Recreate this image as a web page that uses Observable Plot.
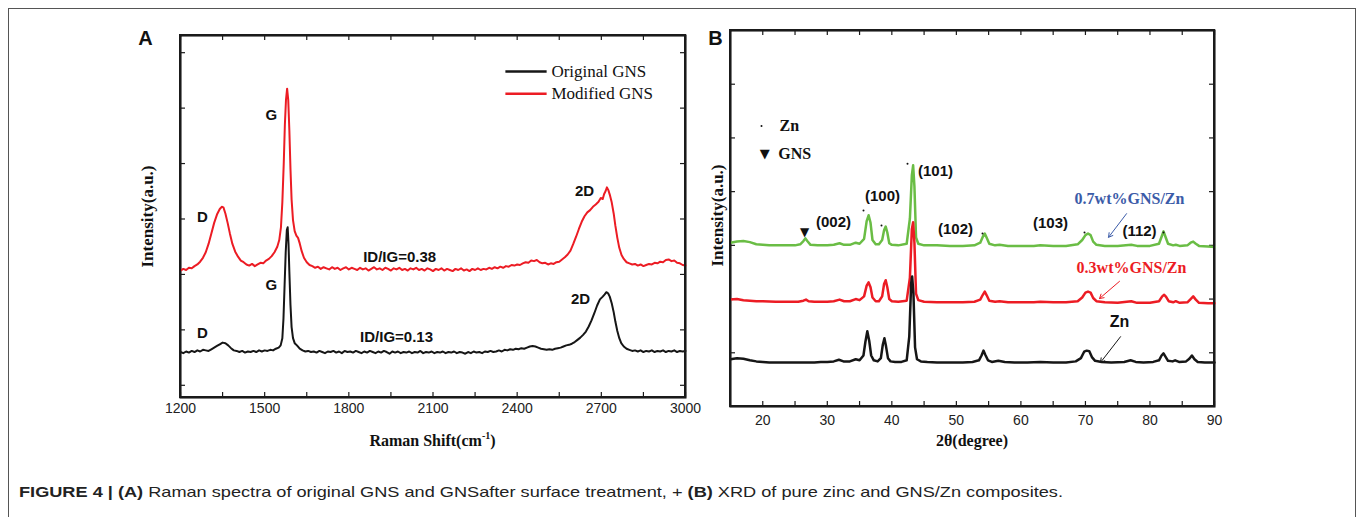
<!DOCTYPE html>
<html><head><meta charset="utf-8">
<script src="https://cdn.jsdelivr.net/npm/d3@7"></script>
<script src="https://cdn.jsdelivr.net/npm/@observablehq/plot@0.6"></script>
<style>
body{margin:0;background:#fff;}
#fig{position:relative;width:1357px;height:517px;overflow:hidden;background:#fff;}
#border{position:absolute;left:8px;top:8px;width:1348px;height:530px;border:1.5px solid #555;border-bottom:none;box-sizing:border-box;}
.panel{position:absolute;top:0;}
#panelA{left:0;width:700px;height:460px;}
#panelB{left:700px;width:530px;height:460px;}
.panel svg{max-width:none !important;}
.frame{position:absolute;border:2px solid #1a1a1a;box-sizing:border-box;pointer-events:none;}
#cap{position:absolute;left:0;top:470px;}
</style></head>
<body>
<div id="fig">
  <div id="border"></div>
  <div id="panelA" class="panel"></div>
  <div id="panelB" class="panel"></div>
  <div id="frameA" class="frame"></div>
  <div id="frameB" class="frame"></div>
  <svg id="cap" width="1357" height="47"></svg>
</div>
<script>
// ---------------- DATA: Panel A (Raman) ----------------
const xDomainA = [1200, 3000];
const yDomainA = [-0.22, 6.31];
const xTicksA = [1200, 1500, 1800, 2100, 2400, 2700, 3000];
const xMinorA = [1200, 1350, 1500, 1650, 1800, 1950, 2100, 2250, 2400, 2550, 2700, 2850, 3000];
const yTicksA = [0, 1, 2, 3, 4, 5, 6];

const modifiedGNS = [[1200,2.07],[1210,2.10],[1220,2.08],[1230,2.12],[1240,2.11],[1250,2.15],[1260,2.18],[1270,2.23],[1280,2.30],[1290,2.40],[1300,2.55],[1310,2.74],[1320,2.93],[1330,3.08],[1340,3.18],[1347,3.22],[1353,3.21],[1360,3.10],[1368,2.93],[1376,2.74],[1385,2.55],[1395,2.41],[1405,2.32],[1415,2.25],[1425,2.22],[1435,2.18],[1445,2.16],[1455,2.19],[1465,2.15],[1475,2.18],[1485,2.21],[1495,2.20],[1505,2.25],[1515,2.28],[1525,2.33],[1535,2.40],[1545,2.50],[1552,2.62],[1558,2.85],[1563,3.30],[1568,4.00],[1572,4.70],[1576,5.15],[1580,5.35],[1584,5.15],[1588,4.60],[1592,3.90],[1596,3.35],[1601,2.98],[1607,2.78],[1613,2.70],[1619,2.66],[1625,2.56],[1632,2.42],[1640,2.30],[1650,2.22],[1660,2.17],[1670,2.15],[1680,2.12],[1690,2.14],[1700,2.10],[1710,2.13],[1720,2.11],[1730,2.09],[1740,2.13],[1750,2.10],[1760,2.12],[1770,2.08],[1780,2.11],[1790,2.13],[1800,2.09],[1810,2.12],[1820,2.10],[1830,2.08],[1840,2.12],[1850,2.09],[1860,2.11],[1870,2.07],[1880,2.10],[1890,2.13],[1900,2.09],[1910,2.11],[1920,2.08],[1930,2.12],[1940,2.10],[1950,2.07],[1960,2.11],[1970,2.09],[1980,2.12],[1990,2.08],[2000,2.10],[2010,2.07],[2020,2.11],[2030,2.09],[2040,2.12],[2050,2.08],[2060,2.10],[2070,2.07],[2080,2.11],[2090,2.09],[2100,2.06],[2110,2.10],[2120,2.08],[2130,2.11],[2140,2.07],[2150,2.10],[2160,2.08],[2170,2.06],[2180,2.10],[2190,2.08],[2200,2.11],[2210,2.07],[2220,2.09],[2230,2.06],[2240,2.10],[2250,2.08],[2260,2.11],[2270,2.08],[2280,2.10],[2290,2.09],[2300,2.12],[2310,2.10],[2320,2.13],[2330,2.11],[2340,2.14],[2350,2.12],[2360,2.15],[2370,2.14],[2380,2.17],[2390,2.16],[2400,2.18],[2410,2.17],[2420,2.20],[2430,2.22],[2440,2.21],[2450,2.25],[2460,2.24],[2470,2.26],[2480,2.22],[2490,2.20],[2500,2.21],[2510,2.18],[2520,2.20],[2530,2.19],[2540,2.22],[2550,2.23],[2560,2.27],[2570,2.31],[2580,2.36],[2590,2.43],[2600,2.55],[2610,2.68],[2620,2.82],[2630,2.95],[2640,3.05],[2650,3.12],[2660,3.16],[2670,3.22],[2680,3.26],[2690,3.31],[2698,3.38],[2705,3.36],[2710,3.45],[2715,3.50],[2720,3.57],[2725,3.52],[2730,3.44],[2737,3.30],[2744,3.10],[2750,2.88],[2757,2.66],[2764,2.48],[2772,2.35],[2780,2.28],[2790,2.22],[2800,2.20],[2810,2.18],[2820,2.19],[2830,2.16],[2840,2.18],[2850,2.15],[2860,2.17],[2870,2.19],[2880,2.18],[2890,2.21],[2900,2.20],[2910,2.23],[2920,2.22],[2930,2.26],[2940,2.27],[2950,2.24],[2960,2.25],[2970,2.21],[2980,2.20],[2990,2.17],[3000,2.16]];

const originalGNS = [[1200,0.60],[1210,0.58],[1220,0.61],[1230,0.59],[1240,0.62],[1250,0.60],[1260,0.63],[1270,0.61],[1280,0.64],[1290,0.63],[1300,0.62],[1310,0.65],[1320,0.68],[1330,0.71],[1340,0.74],[1350,0.77],[1360,0.76],[1370,0.72],[1380,0.67],[1390,0.63],[1400,0.62],[1410,0.60],[1420,0.62],[1430,0.59],[1440,0.61],[1450,0.60],[1460,0.62],[1470,0.60],[1480,0.63],[1490,0.61],[1500,0.63],[1510,0.62],[1520,0.64],[1530,0.63],[1540,0.66],[1550,0.68],[1557,0.72],[1563,0.85],[1567,1.20],[1571,1.80],[1575,2.40],[1579,2.80],[1582,2.85],[1585,2.55],[1588,2.05],[1592,1.45],[1596,1.05],[1601,0.85],[1607,0.76],[1615,0.72],[1625,0.66],[1635,0.63],[1645,0.61],[1655,0.62],[1665,0.60],[1675,0.61],[1685,0.59],[1695,0.62],[1705,0.60],[1715,0.58],[1725,0.61],[1735,0.60],[1745,0.62],[1755,0.59],[1765,0.61],[1775,0.58],[1785,0.62],[1795,0.60],[1805,0.61],[1815,0.59],[1825,0.62],[1835,0.60],[1845,0.58],[1855,0.61],[1865,0.59],[1875,0.62],[1885,0.60],[1895,0.58],[1905,0.61],[1915,0.59],[1925,0.62],[1935,0.60],[1945,0.57],[1955,0.61],[1965,0.59],[1975,0.61],[1985,0.58],[1995,0.60],[2005,0.59],[2015,0.61],[2025,0.58],[2035,0.60],[2045,0.59],[2055,0.62],[2065,0.58],[2075,0.60],[2085,0.59],[2095,0.61],[2105,0.58],[2115,0.60],[2125,0.59],[2135,0.61],[2145,0.58],[2155,0.60],[2165,0.59],[2175,0.61],[2185,0.58],[2195,0.60],[2205,0.59],[2215,0.57],[2225,0.60],[2235,0.58],[2245,0.61],[2255,0.59],[2265,0.60],[2275,0.58],[2285,0.61],[2295,0.60],[2305,0.62],[2315,0.60],[2325,0.61],[2335,0.63],[2345,0.61],[2355,0.64],[2365,0.63],[2375,0.65],[2385,0.64],[2395,0.66],[2405,0.65],[2415,0.67],[2425,0.66],[2435,0.68],[2445,0.70],[2455,0.71],[2465,0.70],[2475,0.68],[2485,0.66],[2495,0.65],[2505,0.64],[2515,0.65],[2525,0.64],[2535,0.66],[2545,0.67],[2555,0.68],[2565,0.70],[2575,0.72],[2585,0.73],[2595,0.75],[2605,0.78],[2615,0.82],[2625,0.86],[2635,0.91],[2645,0.97],[2655,1.06],[2665,1.17],[2675,1.30],[2685,1.44],[2695,1.55],[2705,1.60],[2712,1.64],[2718,1.68],[2724,1.66],[2730,1.60],[2737,1.48],[2744,1.32],[2750,1.15],[2757,0.98],[2764,0.85],[2771,0.76],[2780,0.70],[2790,0.66],[2800,0.64],[2810,0.62],[2820,0.63],[2830,0.61],[2840,0.63],[2850,0.60],[2860,0.62],[2870,0.61],[2880,0.63],[2890,0.60],[2900,0.62],[2910,0.61],[2920,0.63],[2930,0.60],[2940,0.62],[2950,0.61],[2960,0.63],[2970,0.60],[2980,0.62],[2990,0.61],[3000,0.62]];

const legendLabelsA = ["Original GNS", "Modified GNS"];
const peakLabelsA = [
  {label:"G", x:1524, y:4.88}, {label:"D", x:1278, y:3.03}, {label:"2D", x:2640, y:3.50},
  {label:"ID/IG=0.38", x:1981, y:2.31},
  {label:"G", x:1524, y:1.80}, {label:"D", x:1278, y:0.94}, {label:"2D", x:2626, y:1.55},
  {label:"ID/IG=0.13", x:1970, y:0.86}
];

// ---------------- DATA: Panel B (XRD) ----------------
const xDomainB = [15, 90];
const yDomainB = [0, 7];
const xTicksB = [20, 30, 40, 50, 60, 70, 80, 90];
const xMinorB = [20, 25, 30, 35, 40, 45, 50, 55, 60, 65, 70, 75, 80, 85, 90];
const yTicksB = [1, 2, 3, 4, 5, 6];

const pureZn = [[15,0.88],[16,0.90],[17,0.89],[18,0.86],[19,0.84],[20,0.83],[21,0.82],[22,0.82],[23,0.82],[24,0.82],[25,0.82],[26,0.82],[27,0.82],[28,0.82],[29,0.83],[30,0.83],[31,0.84],[31.8,0.87],[32.5,0.84],[33.5,0.84],[34.4,0.88],[35.0,0.86],[35.6,0.95],[35.9,1.20],[36.2,1.40],[36.5,1.22],[36.8,0.95],[37.2,0.86],[37.8,0.84],[38.3,0.90],[38.6,1.15],[38.85,1.27],[39.1,1.12],[39.4,0.90],[39.8,0.84],[40.5,0.83],[41.5,0.83],[42.3,0.86],[42.7,1.30],[43.0,2.30],[43.15,2.42],[43.35,2.10],[43.6,1.10],[43.9,0.88],[44.5,0.84],[45.5,0.83],[47,0.82],[49,0.82],[51,0.82],[52.5,0.83],[53.5,0.86],[53.9,0.95],[54.2,1.04],[54.5,0.96],[54.9,0.86],[55.5,0.83],[56.5,0.85],[57.5,0.83],[59,0.82],[61,0.82],[63,0.83],[65,0.82],[67,0.82],[68.5,0.84],[69.3,0.90],[69.8,1.02],[70.2,1.04],[70.6,1.03],[71.0,0.92],[71.5,0.85],[72.5,0.83],[74,0.82],[76,0.83],[77.0,0.86],[77.8,0.83],[79,0.82],[80.5,0.83],[81.4,0.86],[81.8,0.95],[82.1,0.99],[82.4,0.93],[82.8,0.85],[83.5,0.84],[83.9,0.86],[84.5,0.83],[85.6,0.84],[86.1,0.89],[86.5,0.95],[86.9,0.88],[87.4,0.83],[88.5,0.82],[90,0.82]];

const gns03Zn = [[15,1.99],[16,2.00],[17,1.98],[18,1.97],[19,1.96],[20,1.96],[22,1.95],[24,1.95],[25.5,1.95],[26.3,1.97],[26.7,1.99],[27.1,1.96],[28,1.95],[30,1.95],[31,1.96],[31.9,1.99],[32.6,1.96],[33.5,1.96],[34.4,2.00],[35.0,1.98],[35.7,2.05],[36.1,2.25],[36.4,2.31],[36.7,2.22],[37.0,2.03],[37.5,1.96],[38.0,1.96],[38.5,2.05],[38.8,2.28],[39.05,2.35],[39.3,2.22],[39.6,2.00],[40.0,1.96],[41,1.95],[42.3,1.97],[42.8,2.40],[43.1,3.30],[43.3,3.43],[43.5,3.05],[43.75,2.10],[44.1,1.98],[45,1.95],[47,1.94],[49,1.94],[51,1.94],[52.8,1.95],[53.7,1.99],[54.1,2.08],[54.4,2.14],[54.7,2.07],[55.1,1.97],[56,1.95],[56.7,1.96],[58,1.94],[60,1.94],[62,1.94],[63,1.95],[65,1.94],[67,1.94],[68.8,1.96],[69.5,2.03],[70.0,2.12],[70.4,2.14],[70.8,2.12],[71.2,2.02],[71.7,1.96],[73,1.94],[75,1.93],[77.1,1.96],[78,1.93],[80,1.93],[81.4,1.96],[81.9,2.05],[82.2,2.08],[82.5,2.04],[82.9,1.96],[83.6,1.94],[84.0,1.96],[84.6,1.93],[85.8,1.94],[86.3,2.00],[86.7,2.05],[87.1,1.99],[87.6,1.93],[89,1.92],[90,1.92]];

const gns07Zn = [[15,3.05],[16,3.07],[17,3.08],[18,3.06],[19,3.02],[20,3.01],[21,3.00],[22,3.00],[23,3.00],[24,3.00],[25,3.00],[25.8,3.02],[26.3,3.08],[26.6,3.13],[26.9,3.08],[27.4,3.01],[28.5,3.00],[30,3.00],[31,3.01],[31.9,3.04],[32.6,3.01],[33.5,3.01],[34.4,3.05],[35.0,3.03],[35.7,3.12],[36.1,3.45],[36.4,3.56],[36.7,3.42],[37.0,3.10],[37.5,3.02],[38.0,3.02],[38.5,3.10],[38.8,3.28],[39.05,3.35],[39.3,3.24],[39.6,3.04],[40.0,3.01],[41,3.00],[42.3,3.03],[42.8,3.50],[43.1,4.30],[43.3,4.49],[43.5,4.10],[43.75,3.15],[44.1,3.03],[45,3.00],[47,3.00],[49,2.99],[51,2.99],[52.8,3.00],[53.7,3.05],[54.1,3.16],[54.4,3.22],[54.7,3.14],[55.1,3.03],[56,3.00],[56.7,3.01],[58,2.99],[60,2.99],[62,2.99],[63,3.00],[65,2.99],[67,2.99],[68.8,3.02],[69.5,3.10],[70.0,3.19],[70.4,3.22],[70.8,3.19],[71.2,3.07],[71.7,3.01],[73,2.99],[75,2.99],[77.1,3.01],[78,2.99],[80,2.99],[81.4,3.03],[81.8,3.16],[82.1,3.26],[82.4,3.16],[82.8,3.03],[83.6,3.00],[84.0,3.01],[84.6,2.99],[85.8,3.00],[86.3,3.05],[86.7,3.07],[87.1,3.03],[87.6,2.99],[89,2.98],[90,2.97]];

const planeLabelsB = [
  {label:"(002)", x:30.96, y:3.43}, {label:"(100)", x:38.56, y:3.91}, {label:"(101)", x:46.77, y:4.39},
  {label:"(102)", x:49.87, y:3.30}, {label:"(103)", x:64.59, y:3.41}, {label:"(112)", x:78.38, y:3.26}
];
const znMarksB = [{x:35.61,y:3.65},{x:38.40,y:3.37},{x:42.43,y:4.52},{x:54.05,y:3.22},{x:69.86,y:3.24},{x:82.10,y:3.24}];
const gnsMarkB = [{x:26.47, y:3.24}];
const sampleLabelsB = [
  {label:"0.7wt%GNS/Zn", x:76.83, y:3.87, x1:76.37, y1:3.59, x2:73.58, y2:3.15},
  {label:"0.3wt%GNS/Zn", x:77.14, y:2.59, x1:75.28, y1:2.33, x2:72.18, y2:2.01},
  {label:"Zn", x:75.28, y:1.58, x1:75.44, y1:1.30, x2:72.34, y2:0.82}
];

const caption = {bold1:"FIGURE 4 | (A)", text1:" Raman spectra of original GNS and GNSafter surface treatment, + ", bold2:"(B)", text2:" XRD of pure zinc and GNS/Zn composites."};

// ---------------- STYLES ----------------
const RED = "#ec1c24", BLACK = "#161616", GREEN = "#6abd45", BLUE = "#3b5ba8", AX = "#1a1a1a";
const SANS = "Liberation Sans, Arial, sans-serif", SERIF = "Liberation Serif, Times New Roman, serif";

function placeFrame(id, left, m, w, h) {
  const el = document.getElementById(id);
  el.style.left = (left + m.l - 1) + "px";
  el.style.top = (m.t - 1) + "px";
  el.style.width = (w - m.l - m.r + 2) + "px";
  el.style.height = (h - m.t - m.b + 2) + "px";
}

// ---------------- PANEL A ----------------
const A = {w:700, h:460, l:180, r:15, t:35, b:63};
const fwA = A.w - A.l - A.r, fhA = A.h - A.t - A.b;
const legendPosA = [{x1:2358, x2:2505, y:5.66, tx:2522}, {x1:2358, x2:2505, y:5.26, tx:2522}];
const legendColorsA = [BLACK, RED];
const legA = legendLabelsA.map((label, i) => ({label, color: legendColorsA[i], ...legendPosA[i]}));

const plotA = Plot.plot({
  width: A.w, height: A.h, marginLeft: A.l, marginRight: A.r, marginTop: A.t, marginBottom: A.b,
  style: {fontFamily: SANS, fontSize: "14px", color: AX, background: "transparent", overflow: "visible"},
  x: {domain: xDomainA, axis: null},
  y: {domain: yDomainA, axis: null},
  marks: [
    Plot.frame({stroke: "#000", strokeWidth: 2}),
    Plot.ruleX(xMinorA, {stroke: AX, strokeWidth: 1.2, insetTop: fhA - 5}),
    Plot.ruleX(xMinorA, {stroke: AX, strokeWidth: 1.2, insetBottom: fhA - 5}),
    Plot.ruleY(yTicksA, {stroke: AX, strokeWidth: 1.2, insetRight: fwA - 5}),
    Plot.ruleY(yTicksA, {stroke: AX, strokeWidth: 1.2, insetLeft: fwA - 5}),
    Plot.text(xTicksA, {x: d => d, frameAnchor: "bottom", lineAnchor: "top", dy: 6, text: d => String(d), fontFamily: SANS, fontSize: 14, fill: "#222"}),
    Plot.line(originalGNS, {x: d => d[0], y: d => d[1], stroke: BLACK, strokeWidth: 2}),
    Plot.line(modifiedGNS, {x: d => d[0], y: d => d[1], stroke: RED, strokeWidth: 2}),
    Plot.link(legA, {x1: "x1", x2: "x2", y1: "y", y2: "y", stroke: "color", strokeWidth: 2.5}),
    Plot.text(legA, {x: "tx", y: "y", text: "label", textAnchor: "start", fontFamily: SERIF, fontSize: 17, fill: "#111"}),
    Plot.text(peakLabelsA, {x: "x", y: "y", text: "label", fontFamily: SANS, fontWeight: "bold", fontSize: 15, fill: "#111"}),
    Plot.text(["Intensity(a.u.)"], {frameAnchor: "left", textAnchor: "middle", text: d => d, rotate: -90, dx: -33, fontFamily: SERIF, fontWeight: "bold", fontSize: 17, fill: "#111"}),
    Plot.text(["A"], {frameAnchor: "top-left", lineAnchor: "middle", textAnchor: "middle", text: d => d, dx: -35, dy: 3, fontFamily: SANS, fontWeight: "bold", fontSize: 20, fill: "#111"})
  ]
});
document.getElementById("panelA").appendChild(plotA);
placeFrame("frameA", 0, A, A.w, A.h);
{
  const t = d3.select(plotA).append("text")
    .attr("x", A.l + fwA / 2).attr("y", A.h - A.b + 49)
    .attr("text-anchor", "middle").attr("font-family", SERIF).attr("font-weight", "bold")
    .attr("font-size", 16).attr("fill", "#111");
  t.append("tspan").text("Raman Shift(cm");
  t.append("tspan").attr("font-size", 10).attr("dy", -7).text("-1");
  t.append("tspan").attr("dy", 7).text(")");
}

// ---------------- PANEL B ----------------
const B = {w:530, h:460, l:30, r:16, t:30, b:54};
const fwB = B.w - B.l - B.r, fhB = B.h - B.t - B.b;
const legendB = [{sym:"·", label:"Zn", x:19.8, tx:22.6, y:5.22}, {sym:"▼", label:"GNS", x:20.3, tx:22.4, y:4.71}];

const plotB = Plot.plot({
  width: B.w, height: B.h, marginLeft: B.l, marginRight: B.r, marginTop: B.t, marginBottom: B.b,
  style: {fontFamily: SANS, fontSize: "14px", color: AX, background: "transparent", overflow: "visible"},
  x: {domain: xDomainB, axis: null},
  y: {domain: yDomainB, axis: null},
  marks: [
    Plot.frame({stroke: "#000", strokeWidth: 2}),
    Plot.ruleX(xMinorB, {stroke: AX, strokeWidth: 1.2, insetTop: fhB - 5}),
    Plot.ruleX(xMinorB, {stroke: AX, strokeWidth: 1.2, insetBottom: fhB - 5}),
    Plot.ruleY(yTicksB, {stroke: AX, strokeWidth: 1.2, insetRight: fwB - 5}),
    Plot.ruleY(yTicksB, {stroke: AX, strokeWidth: 1.2, insetLeft: fwB - 5}),
    Plot.text(xTicksB, {x: d => d, frameAnchor: "bottom", lineAnchor: "top", dy: 9, text: d => String(d), fontFamily: SANS, fontSize: 14, fill: "#222"}),
    Plot.line(gns07Zn, {x: d => d[0], y: d => d[1], stroke: GREEN, strokeWidth: 2.5}),
    Plot.line(gns03Zn, {x: d => d[0], y: d => d[1], stroke: RED, strokeWidth: 2.5}),
    Plot.line(pureZn, {x: d => d[0], y: d => d[1], stroke: BLACK, strokeWidth: 2.5}),
    Plot.dot(znMarksB, {x: "x", y: "y", r: 1, fill: "#111"}),
    Plot.dot(legendB.slice(0, 1), {x: "x", y: "y", r: 1, fill: "#111"}),
    Plot.text(legendB.slice(1), {x: "x", y: "y", text: "sym", fontFamily: "DejaVu Sans", fontSize: 13, fill: "#111"}),
    Plot.text(gnsMarkB, {x: "x", y: "y", text: () => "▼", fontFamily: "DejaVu Sans", fontSize: 12, fill: "#111"}),
    Plot.text(legendB, {x: "tx", y: "y", text: "label", textAnchor: "start", fontFamily: SERIF, fontWeight: "bold", fontSize: 16, fill: "#111"}),
    Plot.text(planeLabelsB, {x: "x", y: "y", text: "label", fontFamily: SANS, fontWeight: "bold", fontSize: 15, fill: "#111"}),
    Plot.arrow(sampleLabelsB, {x1: "x1", y1: "y1", x2: "x2", y2: "y2", stroke: (d, i) => [BLUE, RED, BLACK][i], strokeWidth: 1, headLength: 7}),
    Plot.text(sampleLabelsB.slice(0, 2), {x: "x", y: "y", text: "label", fontFamily: SERIF, fontWeight: "bold", fontSize: 16, fill: (d, i) => [BLUE, RED][i]}),
    Plot.text(sampleLabelsB.slice(2), {x: "x", y: "y", text: "label", fontFamily: SANS, fontWeight: "bold", fontSize: 16, fill: "#111"}),
    Plot.text(["Intensity(a.u.)"], {frameAnchor: "left", textAnchor: "middle", text: d => d, rotate: -90, dx: -13, dy: -3, fontFamily: SERIF, fontWeight: "bold", fontSize: 17, fill: "#111"}),
    Plot.text(["B"], {frameAnchor: "top-left", lineAnchor: "middle", textAnchor: "middle", text: d => d, dx: -15, dy: 8, fontFamily: SANS, fontWeight: "bold", fontSize: 20, fill: "#111"})
  ]
});
document.getElementById("panelB").appendChild(plotB);
placeFrame("frameB", 700, B, B.w, B.h);
{
  const t = d3.select(plotB).append("text")
    .attr("x", B.l + fwB / 2).attr("y", B.h - B.b + 40)
    .attr("text-anchor", "middle").attr("font-family", SERIF).attr("font-weight", "bold")
    .attr("font-size", 16).attr("fill", "#111");
  t.append("tspan").text("2θ");
  t.append("tspan").text("(degree)");
}

// ---------------- CAPTION ----------------
{
  const svg = d3.select("#cap");
  const t = svg.append("text").attr("x", 19).attr("y", 27)
    .attr("font-family", "Liberation Sans Narrow, Liberation Sans, Arial, sans-serif")
    .attr("font-size", 15).attr("fill", "#222")
    .attr("textLength", 1044).attr("lengthAdjust", "spacingAndGlyphs");
  t.append("tspan").attr("font-weight", "bold").text(caption.bold1);
  t.append("tspan").text(caption.text1);
  t.append("tspan").attr("font-weight", "bold").text(caption.bold2);
  t.append("tspan").text(caption.text2);
}
</script>
</body></html>
